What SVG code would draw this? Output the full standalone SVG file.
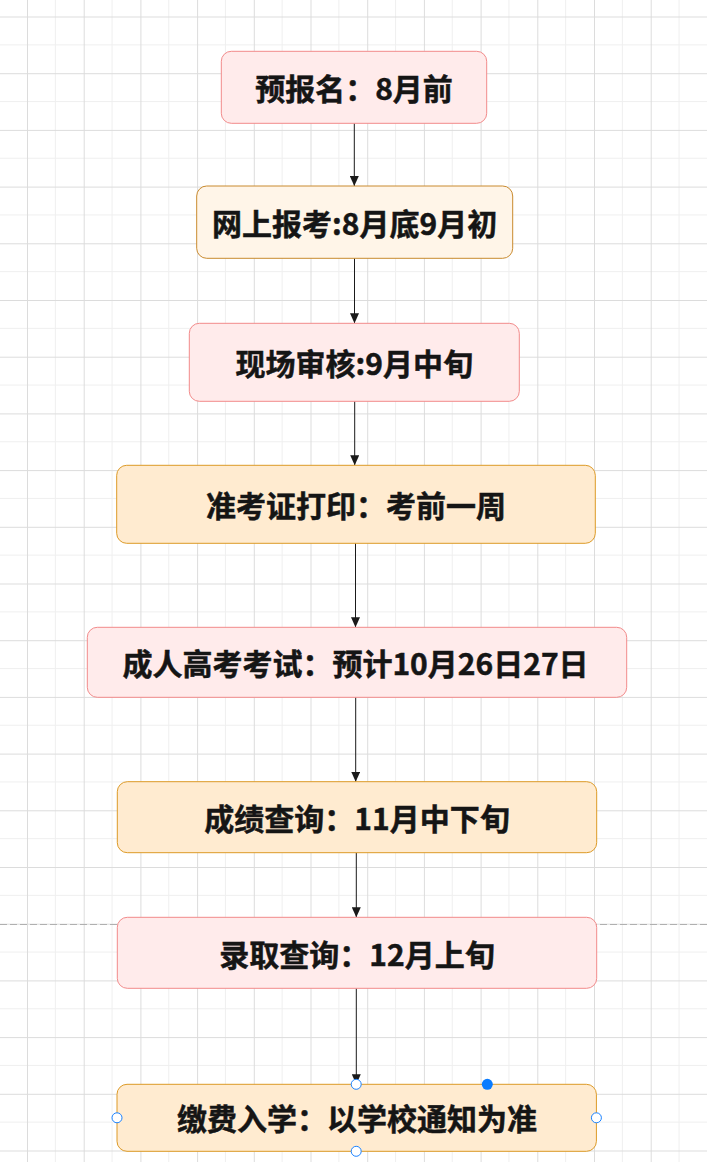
<svg xmlns="http://www.w3.org/2000/svg" width="707" height="1162" viewBox="0 0 707 1162">
  <defs>
    <pattern id="grid" patternUnits="userSpaceOnUse" x="27" y="16.5" width="56.7" height="56.7">
      <path d="M28.35,0 V56.7 M0,28.35 H56.7" stroke="#efefef" stroke-width="1" fill="none"/>
      <path d="M0.5,0 V56.7 M0,0.5 H56.7" stroke="#dcdcdc" stroke-width="1" fill="none"/>
    </pattern>
    <marker id="arrow" markerUnits="userSpaceOnUse" markerWidth="10" markerHeight="9" refX="10" refY="4.5" orient="auto">
      <path d="M0,0 L10,4.5 L0,9 z" fill="#1a1a1a"/>
    </marker>
    <style>
      .pink { fill: #ffebeb; stroke: #f28a8a; stroke-width: 1; }
      .cream { fill: #fff5e8; stroke: #c98a2e; stroke-width: 1; }
      .orange { fill: #ffebd0; stroke: #dd9a26; stroke-width: 1; }
      .label { font-family: "Noto Sans CJK SC", "Noto Sans", sans-serif; font-weight: bold; font-size: 30px; fill: #151515; stroke: #151515; stroke-width: 0.5; text-anchor: middle; }
      .edge { stroke: #1a1a1a; stroke-width: 1; fill: none; marker-end: url(#arrow); }
      .handle { fill: #ffffff; stroke: #1a82ff; stroke-width: 1; }
    </style>
  </defs>

  <rect x="0" y="0" width="707" height="1162" fill="#ffffff"/>
  <rect x="0" y="0" width="707" height="1162" fill="url(#grid)"/>
  <line x1="0" y1="924.5" x2="707" y2="924.5" stroke="#b0b0b0" stroke-width="1" stroke-dasharray="7 3"/>

  <g id="connectors">
    <line class="edge" x1="354.3" y1="123.3" x2="354.3" y2="186"/>
    <line class="edge" x1="354.5" y1="258.3" x2="354.5" y2="323.3"/>
    <line class="edge" x1="354.7" y1="401.3" x2="354.7" y2="465.3"/>
    <line class="edge" x1="355.5" y1="543.3" x2="355.5" y2="627.3"/>
    <line class="edge" x1="355.7" y1="697.3" x2="355.7" y2="781.7"/>
    <line class="edge" x1="356.3" y1="852.7" x2="356.3" y2="917.3"/>
    <line class="edge" x1="356.3" y1="988.3" x2="356.3" y2="1084.3"/>
  </g>

  <g id="node1">
    <rect class="pink" x="221.3" y="51.3" width="265.4" height="72" rx="10"/>
    <text class="label" x="354" y="100">预报名：8月前</text>
  </g>
  <g id="node2">
    <rect class="cream" x="196.7" y="186" width="316" height="72.3" rx="10"/>
    <text class="label" x="354.7" y="235">网上报考:8月底9月初</text>
  </g>
  <g id="node3">
    <rect class="pink" x="189.3" y="323.3" width="330" height="78" rx="10"/>
    <text class="label" x="354.3" y="375">现场审核:9月中旬</text>
  </g>
  <g id="node4">
    <rect class="orange" x="116.7" y="465.3" width="478.6" height="78" rx="10"/>
    <text class="label" x="356" y="517">准考证打印：考前一周</text>
  </g>
  <g id="node5">
    <rect class="pink" x="87.3" y="627.3" width="539.4" height="70" rx="10"/>
    <text class="label" x="355.5" y="675">成人高考考试：预计10月26日27日</text>
  </g>
  <g id="node6">
    <rect class="orange" x="117.3" y="781.7" width="479.4" height="71" rx="10"/>
    <text class="label" x="357" y="830">成绩查询：11月中下旬</text>
  </g>
  <g id="node7">
    <rect class="pink" x="117.3" y="917.3" width="479.4" height="71" rx="10"/>
    <text class="label" x="357" y="965.5">录取查询：12月上旬</text>
  </g>
  <g id="node8">
    <rect class="orange" x="117" y="1084.3" width="479.4" height="67" rx="10"/>
    <text class="label" x="357" y="1130">缴费入学：以学校通知为准</text>
    <circle class="handle" cx="356.2" cy="1084.3" r="5"/>
    <circle class="handle" cx="356.2" cy="1151.3" r="5"/>
    <circle class="handle" cx="117" cy="1117.8" r="5"/>
    <circle class="handle" cx="596.4" cy="1117.8" r="5"/>
    <circle cx="487.3" cy="1084.3" r="5.5" fill="#0a7cff"/>
  </g>
</svg>
